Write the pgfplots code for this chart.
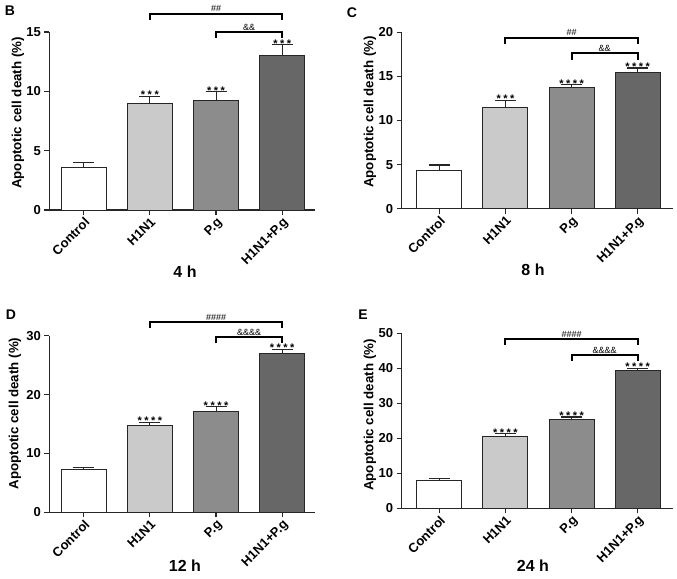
\documentclass[border=0pt]{standalone}
\usepackage{fontspec}
\setmainfont{Liberation Sans}
\usepackage{pgfplots}
\pgfplotsset{compat=1.18}

\definecolor{cctrl}{HTML}{FFFFFF}
\definecolor{ch1n1}{HTML}{CACACA}
\definecolor{cpg}{HTML}{8C8C8C}
\definecolor{cboth}{HTML}{676767}

\pgfplotsset{
  panel/.style={
    scale only axis,
    ybar, bar width=45pt, bar shift=0pt,
    clip=false,
    axis x line*=bottom, axis y line*=left,
    axis line style={line width=1.3pt, black!85},
    xmin=-0.52, xmax=3.5, ymin=0,
    xtick={0,1,2,3},
    xticklabels={Control, H1N1, P.g, H1N1+P.g},
    x tick label style={rotate=45, anchor=north east, font=\fontsize{13}{15}\selectfont\bfseries, inner sep=1pt},
    y tick label style={font=\fontsize{13}{15}\selectfont\bfseries},
    /pgf/number format/assume math mode=true,
    tick align=outside, major tick length=5pt,
    tick style={line width=1.2pt, black!85},
    ylabel={Apoptotic cell death (\%)},
    ylabel style={font=\fontsize{13.3}{15}\selectfont\bfseries, anchor=center},
    every axis plot/.append style={draw=black!85, line width=1pt,
      error bars/y dir=plus, error bars/y explicit,
      error bars/error mark=|,
      error bars/error bar style={line width=1.1pt, black!85},
      error bars/error mark options={line width=1.1pt, mark size=10.5pt, black!85}},
  },
}
\tikzset{
  stars/.style={anchor=south, inner sep=0pt, yshift=-2.8pt, font=\fontsize{11}{11}\selectfont\bfseries},
  sig/.style={anchor=south, inner sep=1.5pt, font=\fontsize{9}{9}\selectfont},
  brk/.style={line width=2pt, black},
  ptitle/.style={font=\fontsize{16}{18}\selectfont\bfseries},
  pletter/.style={font=\fontsize{14}{15}\selectfont\bfseries},
}
\newcommand{\sthree}{*\hspace{2.5pt}*\hspace{2.5pt}*}
\newcommand{\sfour}{*\hspace{2.5pt}*\hspace{2.5pt}*\hspace{2.5pt}*}

\begin{document}
\begin{tikzpicture}
\useasboundingbox (0pt,0pt) rectangle (677pt,-578pt);

% ---- B: 4 h ----
\begin{axis}[panel, at={(49.3pt,-210pt)}, anchor=south west,
  width=266pt, height=178pt, ymax=15, ytick={0,5,10,15},
  ylabel style={at={(axis description cs:-0.118,0.545)}}]
\addplot[fill=cctrl] coordinates {(0,3.6) +- (0,0.4)};
\addplot[fill=ch1n1] coordinates {(1,8.95) +- (0,0.65)};
\addplot[fill=cpg] coordinates {(2,9.2) +- (0,0.75)};
\addplot[fill=cboth] coordinates {(3,13.0) +- (0,0.95)};
\node[stars] at (axis cs:1,9.6) {\sthree};
\node[stars] at (axis cs:2,9.95) {\sthree};
\node[stars] at (axis cs:3,13.95) {\sthree};
\draw[brk] (axis cs:1,16.05) |- (axis cs:3,16.55) -- (axis cs:3,16.05);
\node[sig] at (axis cs:2,16.55) {\#\#};
\draw[brk] (axis cs:2,14.5) |- (axis cs:3,15.0) -- (axis cs:3,14.5);
\node[sig] at (axis cs:2.5,15.0) {\&\&};
\end{axis}

% ---- C: 8 h ----
\begin{axis}[panel, at={(401.7pt,-208.7pt)}, anchor=south west,
  width=271pt, height=176.4pt, xmin=-0.57, xmax=3.53,
  ymax=20, ytick={0,5,10,15,20},
  ylabel style={at={(axis description cs:-0.117,0.548)}}]
\addplot[fill=cctrl] coordinates {(0,4.3) +- (0,0.65)};
\addplot[fill=ch1n1] coordinates {(1,11.5) +- (0,0.8)};
\addplot[fill=cpg] coordinates {(2,13.7) +- (0,0.35)};
\addplot[fill=cboth] coordinates {(3,15.4) +- (0,0.55)};
\node[stars] at (axis cs:1,12.3) {\sthree};
\node[stars] at (axis cs:2,14.05) {\sfour};
\node[stars] at (axis cs:3,15.95) {\sfour};
\draw[brk] (axis cs:1,18.7) |- (axis cs:3,19.4) -- (axis cs:3,18.7);
\node[sig] at (axis cs:2,19.4) {\#\#};
\draw[brk] (axis cs:2,16.9) |- (axis cs:3,17.6) -- (axis cs:3,16.9);
\node[sig] at (axis cs:2.5,17.6) {\&\&};
\end{axis}

% ---- D: 12 h ----
\begin{axis}[panel, at={(49.3pt,-512.3pt)}, anchor=south west,
  width=266pt, height=176.6pt, ymax=30, ytick={0,10,20,30},
  ylabel style={at={(axis description cs:-0.129,0.56)}}]
\addplot[fill=cctrl] coordinates {(0,7.2) +- (0,0.4)};
\addplot[fill=ch1n1] coordinates {(1,14.8) +- (0,0.5)};
\addplot[fill=cpg] coordinates {(2,17.2) +- (0,0.7)};
\addplot[fill=cboth] coordinates {(3,27.0) +- (0,0.7)};
\node[stars] at (axis cs:1,15.3) {\sfour};
\node[stars] at (axis cs:2,17.9) {\sfour};
\node[stars] at (axis cs:3,27.7) {\sfour};
\draw[brk] (axis cs:1,31.3) |- (axis cs:3,32.3) -- (axis cs:3,31.3);
\node[sig] at (axis cs:2,32.3) {\#\#\#\#};
\draw[brk] (axis cs:2,28.7) |- (axis cs:3,29.7) -- (axis cs:3,28.7);
\node[sig] at (axis cs:2.5,29.7) {\&\&\&\&};
\end{axis}

% ---- E: 24 h ----
\begin{axis}[panel, at={(401.7pt,-508.3pt)}, anchor=south west,
  width=271pt, height=175pt, xmin=-0.57, xmax=3.53,
  ymax=50, ytick={0,10,20,30,40,50},
  ylabel style={at={(axis description cs:-0.117,0.533)}}]
\addplot[fill=cctrl] coordinates {(0,8.0) +- (0,0.6)};
\addplot[fill=ch1n1] coordinates {(1,20.6) +- (0,0.7)};
\addplot[fill=cpg] coordinates {(2,25.5) +- (0,0.6)};
\addplot[fill=cboth] coordinates {(3,39.3) +- (0,0.7)};
\node[stars] at (axis cs:1,21.3) {\sfour};
\node[stars] at (axis cs:2,26.1) {\sfour};
\node[stars] at (axis cs:3,40.0) {\sfour};
\draw[brk] (axis cs:1,46.7) |- (axis cs:3,48.4) -- (axis cs:3,46.7);
\node[sig] at (axis cs:2,48.4) {\#\#\#\#};
\draw[brk] (axis cs:2,42.1) |- (axis cs:3,43.8) -- (axis cs:3,42.1);
\node[sig] at (axis cs:2.5,43.8) {\&\&\&\&};
\end{axis}

% panel letters and time captions
\node[pletter] at (10pt,-11pt) {B};
\node[pletter] at (352pt,-13pt) {C};
\node[pletter] at (11pt,-315pt) {D};
\node[pletter] at (363pt,-315pt) {E};
\node[ptitle] at (185pt,-272pt) {4 h};
\node[ptitle] at (533pt,-270pt) {8 h};
\node[ptitle] at (185pt,-566pt) {12 h};
\node[ptitle] at (533pt,-566pt) {24 h};
\end{tikzpicture}
\end{document}
